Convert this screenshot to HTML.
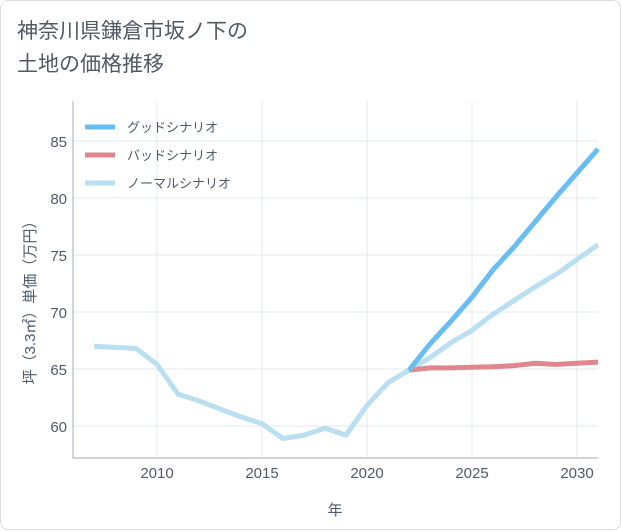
<!DOCTYPE html>
<html><head><meta charset="utf-8"><style>
body{margin:0;background:#fff;font-family:"Liberation Sans","Noto Sans CJK JP",sans-serif;}
#card{position:absolute;left:0;top:0;width:619px;height:528px;border:1px solid #ddd;border-radius:8px;background:#fff;}
#title{position:absolute;left:16px;top:14px;font-size:21px;line-height:33px;color:#505a64;}
</style></head><body>
<div id="card">
<div id="title">神奈川県鎌倉市坂ノ下の<br>土地の価格推移</div>
<svg id="chart" width="621" height="530" style="position:absolute;left:0;top:0"></svg>
</div>
<script>
const years=[2007,2008,2009,2010,2011,2012,2013,2014,2015,2016,2017,2018,2019,2020,2021,2022,2023,2024,2025,2026,2027,2028,2029,2030,2031];
const normal=[67.0,66.9,66.8,65.4,62.8,62.2,61.5,60.8,60.2,58.9,59.2,59.8,59.2,61.8,63.8,64.9,66.0,67.3,68.4,69.8,71.0,72.2,73.3,74.6,75.9];
const futureYears=[2022,2023,2024,2025,2026,2027,2028,2029,2030,2031];
const good=[64.9,67.2,69.2,71.3,73.7,75.7,77.9,80.1,82.2,84.3];
const bad=[64.9,65.1,65.1,65.15,65.2,65.3,65.5,65.4,65.5,65.6];
const xTicks=[2010,2015,2020,2025,2030];
const yTicks=[60,65,70,75,80,85];
const L=72,R=597,T=100,B=457;
const TXT='#4d5b6a';
const x=y=>156+(y-2010)*21;
const yv=v=>425-(v-60)*11.4;
const svg=document.getElementById('chart');
const NS='http://www.w3.org/2000/svg';
function mk(t,a){const e=document.createElementNS(NS,t);for(const k in a)e.setAttribute(k,a[k]);svg.appendChild(e);return e;}
xTicks.forEach(t=>{const l=mk('line',{x1:x(t),x2:x(t),y1:T,y2:B,stroke:'#e3e8ee'});


const tx=mk('text',{x:x(t),y:B+20,'text-anchor':'middle','font-size':15,fill:TXT});tx.textContent=t;

});
yTicks.forEach(t=>{const l=mk('line',{x1:L,x2:R,y1:yv(t),y2:yv(t),stroke:'#e3e8ee'});


const tx=mk('text',{x:L-6,y:yv(t)+6,'text-anchor':'end','font-size':15,fill:TXT});tx.textContent=t;

});
const ax=mk('path',{d:`M${L} ${T}V${B}H${R}`,stroke:'#aab',fill:'none'});


const xt=mk('text',{x:334,y:514,'text-anchor':'middle','font-size':15,fill:TXT});xt.textContent='年';


const yt=mk('text',{x:0,y:0,'text-anchor':'middle','font-size':15,fill:TXT,transform:'translate(34,298) rotate(-90)'});yt.textContent='坪（3.3㎡）単価（万円）';


function line(xs,vs,c,name){const p=mk('polyline',{points:xs.map((yr,i)=>x(yr)+','+yv(vs[i])).join(' '),fill:'none',stroke:c,'stroke-width':5,'stroke-linejoin':'round'});

}
line(years,normal,'#badff0','normal-scenario-line');
line(futureYears,bad,'#e0868f','bad-scenario-line');
line(futureYears,good,'#68bdf2','good-scenario-line');
const legend=[['グッドシナリオ','#68bdf2'],['バッドシナリオ','#e0868f'],['ノーマルシナリオ','#badff0']];
legend.forEach((d,i)=>{const yy=126+i*28;
const l=mk('line',{x1:84,x2:114,y1:yy,y2:yy,stroke:d[1],'stroke-width':5});


const t=mk('text',{x:126,y:yy+5,'font-size':13,fill:TXT});t.textContent=d[0];

});
</script>
</body></html>
